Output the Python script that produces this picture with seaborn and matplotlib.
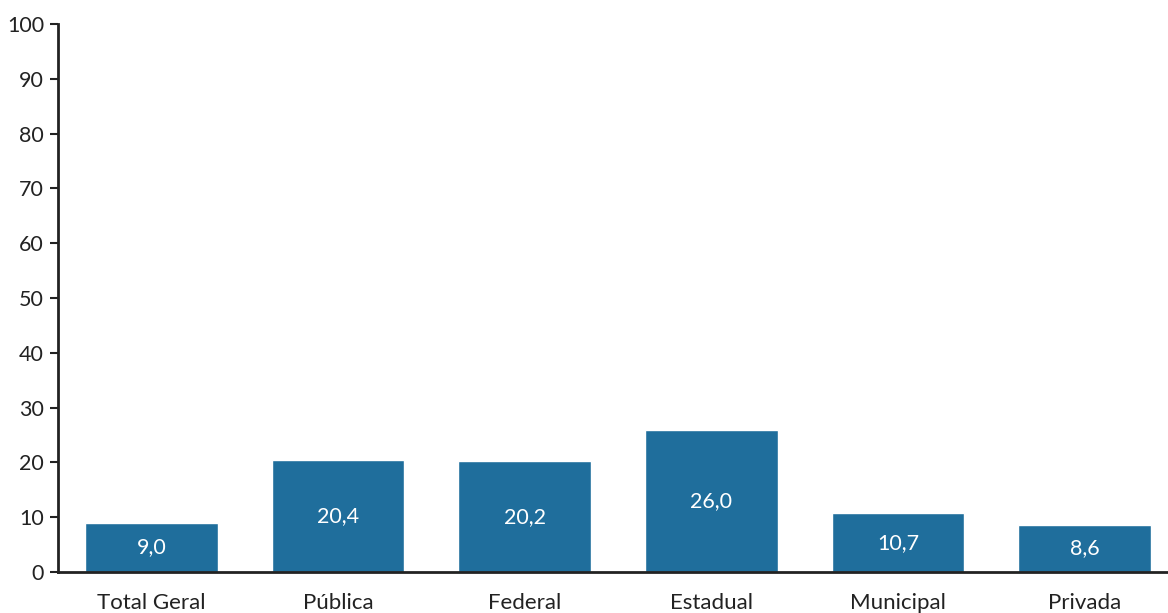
import matplotlib
matplotlib.use("Agg")
import matplotlib.pyplot as plt
import seaborn as sns
import pandas as pd
import numpy as np

# --- DATA ---
categorias = ["Total Geral", "Pública", "Federal", "Estadual", "Municipal", "Privada"]
valores = [9.0, 20.4, 20.2, 26.0, 10.7, 8.6]
rotulos = ["9,0", "20,4", "20,2", "26,0", "10,7", "8,6"]
y_ticks = list(range(0, 101, 10))

BAR_COLOR = "#1f6e9c"
AXIS_COLOR = "#222222"


def plot_chart():
    sns.set_theme(style="white")
    plt.rcParams['font.family'] = ['Lato', 'DejaVu Sans']

    df = pd.DataFrame({"categoria": categorias, "valor": valores})

    fig = plt.figure(figsize=(11.68, 6.13), dpi=100)
    # axes extends a bit past the right edge, like the reference
    ax = fig.add_axes([58 / 1168, (613 - 572) / 613, 1120 / 1168, 548 / 613])

    sns.barplot(data=df, x="categoria", y="valor", color=BAR_COLOR, saturation=1,
                width=0.71, ax=ax)

    for i, (v, txt) in enumerate(zip(valores, rotulos)):
        ax.text(i, v / 2, txt, ha="center", va="center", color="white", fontsize=15.5)

    ax.set_xlim(-0.5, len(categorias) - 0.5)
    ax.set_ylim(0, 100)
    ax.set_yticks(y_ticks)
    ax.set_xlabel("")
    ax.set_ylabel("")

    # labels in the middle, tick marks at category boundaries
    ax.set_xticks(np.arange(len(categorias)))
    ax.set_xticklabels(categorias)
    ax.set_xticks(np.arange(len(categorias)) - 0.5, minor=True)
    ax.tick_params(axis="x", which="major", length=0, pad=15, labelsize=16, colors=AXIS_COLOR)
    ax.tick_params(axis="x", which="minor", length=7, width=2, color=AXIS_COLOR, direction="out")
    ax.tick_params(axis="y", length=6, width=1.5, color=AXIS_COLOR, direction="out",
                   labelsize=15.5, labelcolor=AXIS_COLOR, pad=4, left=True)

    sns.despine(ax=ax, top=True, right=True)
    for side in ["left", "bottom"]:
        ax.spines[side].set_color(AXIS_COLOR)
        ax.spines[side].set_linewidth(2)

    fig.savefig("out.png", dpi=100)


if __name__ == "__main__":
    plot_chart()
